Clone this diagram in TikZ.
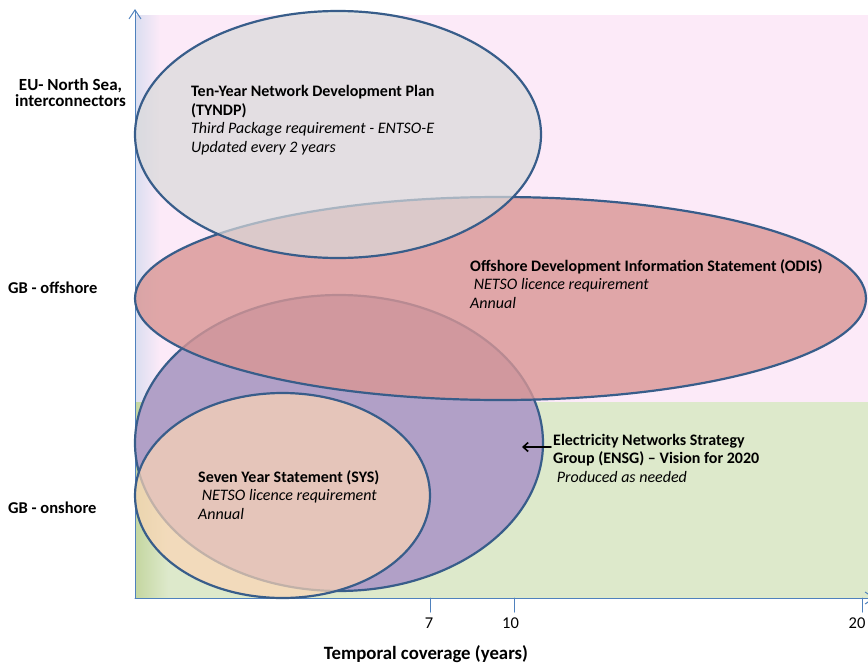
\documentclass[tikz,border=0pt]{standalone}
\usepackage{fontspec}
\setmainfont{Carlito}
\usepackage{tikz}
\usetikzlibrary{arrows,arrows.meta,calc,positioning,shapes}
\tikzset{>=latex}
\definecolor{pinkbg}{rgb}{0.988,0.918,0.973}
\definecolor{greenbg}{rgb}{0.867,0.914,0.796}
\definecolor{stripblue}{rgb}{0.855,0.871,0.941}
\definecolor{stripgreen}{rgb}{0.769,0.839,0.627}
\definecolor{axisblue}{rgb}{0.31,0.506,0.741}
\definecolor{rimblue}{rgb}{0.22,0.365,0.541}
\definecolor{plangrey}{rgb}{0.851,0.851,0.851}
\definecolor{planred}{rgb}{0.851,0.588,0.58}
\definecolor{planpurple}{rgb}{0.694,0.627,0.78}
\definecolor{planpeach}{rgb}{0.988,0.835,0.71}
\tikzset{
  plan/.style={ellipse,draw=rimblue,line width=2.2pt,inner sep=0pt},
  lbl/.style={anchor=base west,align=left,inner sep=0pt,font=\fontsize{16}{18.5}\selectfont},
  side/.style={inner sep=0pt,font=\bfseries\fontsize{16.5}{15.5}\selectfont},
  axis/.style={color=axisblue,line width=1.pt},
  ticklbl/.style={anchor=base,inner sep=0pt,font=\fontsize{16.5}{18}\selectfont}
}

\begin{document}
\begin{tikzpicture}[line cap=round,line join=round,x=1.0pt,y=-1.0pt]
\useasboundingbox (0,0) rectangle (868,667);
\clip(0,0) rectangle (868,667);
% background bands
\fill[color=pinkbg] (135,15) rectangle (868,402);
\fill[color=greenbg] (135,402) rectangle (868,598);
\shade[left color=stripblue,right color=pinkbg] (135,15) rectangle (160,402);
\shade[left color=stripgreen,right color=greenbg] (135,402) rectangle (168,598);
% axes
\coordinate (o) at (135,598);
\coordinate (ytop) at (135,9);
\coordinate (xend) at (875,598);
\draw[axis,-{Straight Barb[length=9pt,width=12pt]}] (o) -- (ytop);
\draw[axis,-{Straight Barb[length=9pt,width=12pt]}] (o) -- (xend);
\foreach \t/\lab/\dx in {430/7/-1,514/10/-3.5,862/20/-5}
{
  \draw[axis] (\t,598) -- (\t,612);
  \node[ticklbl] (tick\lab) at (\t+\dx,628) {\lab};
}
% ellipses
\node[plan,fill=planpurple,minimum width=408pt,minimum height=296pt] (ensg) at (339,443) {};
\node[plan,fill=planpeach,fill opacity=0.7,minimum width=295pt,minimum height=205pt] (sys) at (282.5,495.5) {};
\node[plan,fill=planred,fill opacity=0.8,minimum width=731pt,minimum height=203pt] (odis) at (500.5,298.5) {};
\node[plan,fill=plangrey,fill opacity=0.7,minimum width=406pt,minimum height=247pt] (tyndp) at (338,134.5) {};
% texts (base = last line)
\node[lbl] (tyndptxt) at (191,152) {\textbf{Ten-Year Network Development Plan}\\\textbf{(TYNDP)}\\\textit{Third Package requirement - ENTSO-E}\\\textit{Updated every 2 years}};
\node[lbl] (odistxt) at (470,308) {\textbf{Offshore Development Information Statement (ODIS)}\\\textit{\ NETSO licence requirement}\\\textit{Annual}};
\node[lbl] (ensgtxt) at (553,482) {\textbf{Electricity Networks Strategy}\\\textbf{Group (ENSG) – Vision for 2020}\\\textit{\ Produced as needed}};
\node[lbl] (systxt) at (198,519) {\textbf{Seven Year Statement (SYS)}\\\textit{\ NETSO licence requirement}\\\textit{Annual}};
\coordinate (ensgtail) at (551,447);
\coordinate (ensgtip) at (522,447);
\draw[line width=1.6pt,-{Straight Barb[length=5pt,width=9pt]}] (ensgtail) -- (ensgtip);
\node[side,align=center,anchor=base,font=\bfseries\fontsize{17}{16.5}\selectfont] (eu) at (70.5,106.5) {EU- North Sea,\\interconnectors};
\node[side,anchor=base west] (gboff) at (8,293) {GB - offshore};
\node[side,anchor=base west] (gbon) at (8,513) {GB - onshore};
\node[anchor=base,inner sep=0pt,font=\bfseries\fontsize{18.8}{22}\selectfont] (xtitle) at (426,659) {Temporal coverage (years)};
\end{tikzpicture}
\end{document}
